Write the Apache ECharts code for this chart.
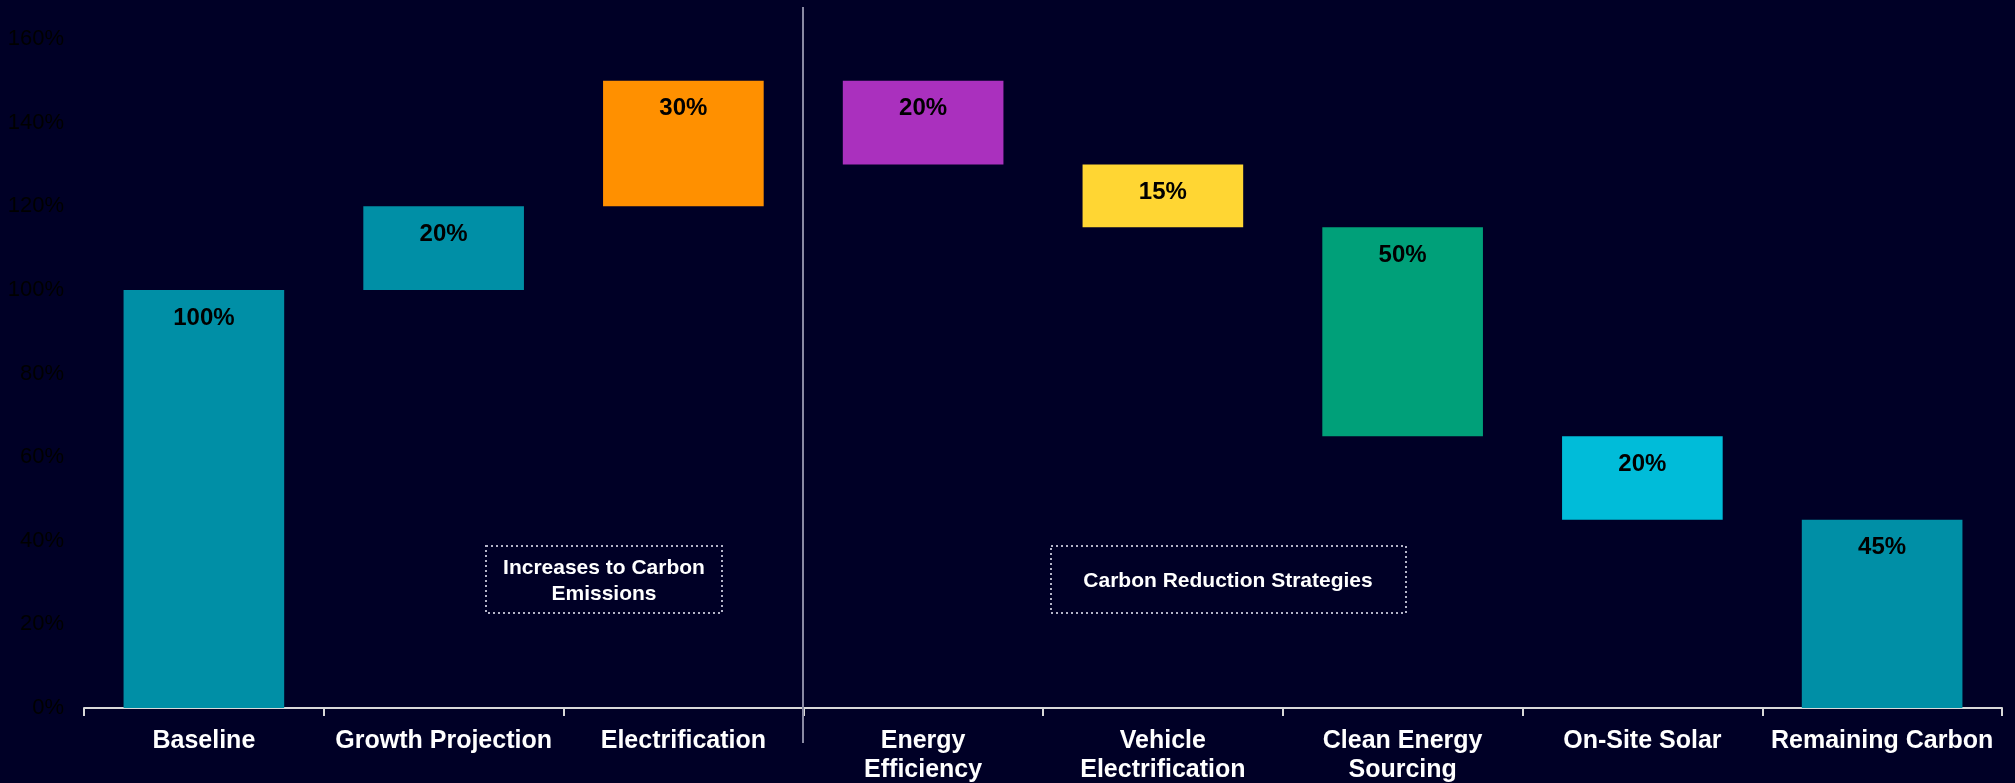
<!DOCTYPE html>
<html>
<head>
<meta charset="utf-8">
<script src="https://cdn.jsdelivr.net/npm/echarts@6/dist/echarts.min.js"></script>
<style>
  html, body { margin: 0; padding: 0; background: #000026; }
  #chart { width: 2015px; height: 783px; }
</style>
</head>
<body>
<div id="chart"></div>
<script>
// 类目
const categories = ['Baseline', 'Growth Projection', 'Electrification', 'Energy\nEfficiency', 'Vehicle\nElectrification', 'Clean Energy\nSourcing', 'On-Site Solar', 'Remaining Carbon'];
// 每一步变化（首尾为总量）
const changes = [100, 20, 30, -20, -15, -50, -20, 45];
const isTotal = [true, false, false, false, false, false, false, true];
// 柱子颜色
const barColors = ['#008FA6', '#008FA6', '#FF9000', '#AA30BE', '#FFD633', '#00A079', '#00BCD9', '#008FA6'];
// Y轴刻度
const yTicks = [0, 20, 40, 60, 80, 100, 120, 140, 160];

// 计算瀑布图的底座和高度
let running = 0;
const baseData = [];
const heightData = [];
changes.forEach((v, i) => {
  if (isTotal[i]) {
    baseData.push(0);
    heightData.push(Math.abs(v));
    running = v;
  } else if (v >= 0) {
    baseData.push(running);
    heightData.push(v);
    running += v;
  } else {
    running += v;
    baseData.push(running);
    heightData.push(-v);
  }
});

const myChart = echarts.init(document.getElementById('chart'));

const option = {
  backgroundColor: '#000026',
  animation: false,
  grid: { left: 84, right: 13, top: 39, bottom: 75, containLabel: false, outerBoundsMode: 'none' },
  xAxis: {
    type: 'category',
    data: categories,
    axisLine: { show: true, lineStyle: { color: '#d9d9d9', width: 2 } },
    axisTick: { show: true, length: 8, lineStyle: { color: '#d9d9d9', width: 2 } },
    axisLabel: {
      interval: 0,
      margin: 19,
      color: '#ffffff',
      fontFamily: 'Liberation Sans, Arial, sans-serif',
      fontWeight: 'bold',
      fontSize: 25,
      lineHeight: 29
    }
  },
  yAxis: {
    type: 'value',
    min: yTicks[0],
    max: yTicks[yTicks.length - 1],
    interval: 20,
    axisLine: { show: false },
    axisTick: { show: false },
    splitLine: { show: false },
    axisLabel: {
      margin: 20,
      color: '#000000',
      fontFamily: 'Liberation Sans, Arial, sans-serif',
      fontSize: 22,
      formatter: '{value}%'
    }
  },
  series: [
    {
      type: 'bar',
      stack: 'wf',
      data: baseData,
      itemStyle: { color: 'transparent' },
      barCategoryGap: '33%',
      silent: true
    },
    {
      type: 'bar',
      stack: 'wf',
      barCategoryGap: '33%',
      data: heightData.map((v, i) => ({ value: v, itemStyle: { color: barColors[i] } })),
      label: {
        show: true,
        position: 'insideTop',
        distance: 16,
        color: '#000000',
        fontFamily: 'Liberation Sans, Arial, sans-serif',
        fontWeight: 'bold',
        fontSize: 24,
        formatter: (p) => p.value + '%'
      }
    }
  ],
  graphic: [
    // 中间分隔线
    {
      type: 'line',
      shape: { x1: 803, y1: 7, x2: 803, y2: 743 },
      style: { stroke: '#8a8aa3', lineWidth: 2 },
      z: 10
    },
    // 注释框：增加
    {
      type: 'rect',
      shape: { x: 486, y: 546, width: 236, height: 67 },
      style: { fill: 'transparent', stroke: '#b4b4c8', lineWidth: 2, lineDash: [2, 3] }
    },
    {
      type: 'text',
      x: 604, y: 581,
      style: {
        text: 'Increases to Carbon\nEmissions',
        fill: '#ffffff',
        font: 'bold 21px Liberation Sans, Arial, sans-serif',
        lineHeight: 26,
        align: 'center',
        verticalAlign: 'middle'
      }
    },
    // 注释框：减排
    {
      type: 'rect',
      shape: { x: 1051, y: 546, width: 355, height: 67 },
      style: { fill: 'transparent', stroke: '#b4b4c8', lineWidth: 2, lineDash: [2, 3] }
    },
    {
      type: 'text',
      x: 1228, y: 581,
      style: {
        text: 'Carbon Reduction Strategies',
        fill: '#ffffff',
        font: 'bold 21px Liberation Sans, Arial, sans-serif',
        align: 'center',
        verticalAlign: 'middle'
      }
    }
  ]
};

myChart.setOption(option);
</script>
</body>
</html>
